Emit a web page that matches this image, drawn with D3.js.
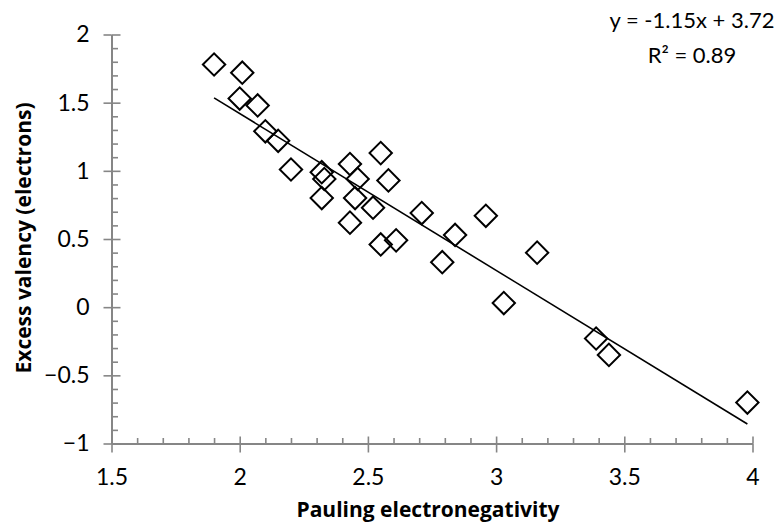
<!DOCTYPE html>
<html>
<head>
<meta charset="utf-8">
<script src="https://cdn.jsdelivr.net/npm/d3@7"></script>
<style>
  html, body { margin: 0; padding: 0; background: #fff; }
  svg { display: block; }
  text { font-family: Lato, "Open Sans", sans-serif; }
</style>
</head>
<body>
<svg id="chart" width="783" height="523"></svg>
<script>
// ---- data ----
const electronegativity = [1.90, 2.01, 2.00, 2.07, 2.10, 2.15, 2.20, 2.32, 2.33, 2.32, 2.43, 2.46, 2.45, 2.43, 2.55, 2.58, 2.52, 2.55, 2.61, 2.71, 2.84, 2.79, 2.96, 3.16, 3.03, 3.39, 3.44, 3.98];
const excessValency     = [1.78, 1.72, 1.53, 1.48, 1.29, 1.22, 1.01, 0.99, 0.94, 0.80, 1.05, 0.94, 0.80, 0.62, 1.13, 0.93, 0.73, 0.46, 0.49, 0.69, 0.53, 0.33, 0.67, 0.40, 0.03, -0.23, -0.35, -0.70];
const xTicks = [1.5, 2, 2.5, 3, 3.5, 4];
const yTicks = [-1, -0.5, 0, 0.5, 1, 1.5, 2];
const trendSlope = -1.15;
const trendIntercept = 3.72;
const equationLabels = ["y = -1.15x + 3.72", "R\u00B2 = 0.89"];
const xTitle = "Pauling electronegativity";
const yTitle = "Excess valency (electrons)";

// ---- layout ----
const svg = d3.select("#chart");
const x = d3.scaleLinear().domain([1.5, 4]).range([111.5, 752.5]);
const y = d3.scaleLinear().domain([-1, 2]).range([443.5, 34.5]);
const axisColor = "#868686";

const xMinor = d3.range(15, 41).map(v => v / 10).filter(v => !xTicks.some(t => Math.abs(t - v) < 1e-9));
const yMinor = d3.range(-10, 21).map(v => v / 10).filter(v => !yTicks.some(t => Math.abs(t - v) < 1e-9));

function styleAxis(g) {
  g.selectAll("path.domain").attr("stroke", axisColor).attr("stroke-width", 2);
  g.selectAll(".tick line").attr("stroke", axisColor).attr("stroke-width", 1.6);
  g.selectAll(".tick text").attr("fill", "#000").style("font-size", "23px").style("font-family", "Lato, sans-serif");
}

// x minor ticks (inside, upward)
svg.append("g").attr("transform", `translate(0,${y(-1)})`)
  .call(d3.axisBottom(x).tickValues(xMinor).tickSize(-5.5).tickFormat(""))
  .call(styleAxis).call(g => g.select(".domain").remove());
// x major ticks upward part
svg.append("g").attr("transform", `translate(0,${y(-1)})`)
  .call(d3.axisBottom(x).tickValues(xTicks).tickSize(-7).tickFormat(""))
  .call(styleAxis).call(g => g.select(".domain").remove());
// x major ticks + labels
svg.append("g").attr("transform", `translate(0,${y(-1)})`)
  .call(d3.axisBottom(x).tickValues(xTicks).tickSizeInner(9).tickSizeOuter(0).tickPadding(16).tickFormat(d3.format("")))
  .call(styleAxis);

// y minor ticks (inside, right)
svg.append("g").attr("transform", `translate(${x(1.5)},0)`)
  .call(d3.axisLeft(y).tickValues(yMinor).tickSize(-6.5).tickFormat(""))
  .call(styleAxis).call(g => g.select(".domain").remove());
// y major ticks right part
svg.append("g").attr("transform", `translate(${x(1.5)},0)`)
  .call(d3.axisLeft(y).tickValues(yTicks).tickSize(-9).tickFormat(""))
  .call(styleAxis).call(g => g.select(".domain").remove());
// y major ticks + labels
svg.append("g").attr("transform", `translate(${x(1.5)},0)`)
  .call(d3.axisLeft(y).tickValues(yTicks).tickSizeInner(8).tickSizeOuter(0).tickPadding(14).tickFormat(d3.format("")))
  .call(styleAxis);

// trend line
const xExt = d3.extent(electronegativity);
svg.append("line")
  .attr("x1", x(xExt[0])).attr("y1", y(trendSlope * xExt[0] + trendIntercept))
  .attr("x2", x(xExt[1])).attr("y2", y(trendSlope * xExt[1] + trendIntercept))
  .attr("stroke", "#000").attr("stroke-width", 1.6);

// points (open diamonds)
const pts = electronegativity.map((e, i) => ({ e, v: excessValency[i] }));
const sym = d3.symbol().type(d3.symbolSquare).size(250);
svg.append("g").selectAll("path").data(pts).join("path")
  .attr("d", sym)
  .attr("transform", d => `translate(${x(d.e)},${y(d.v)}) rotate(45)`)
  .attr("fill", "none").attr("stroke", "#000").attr("stroke-width", 2);

// equation labels
svg.append("g").selectAll("text").data(equationLabels).join("text")
  .attr("x", 692).attr("y", (d, i) => 28 + i * 35)
  .attr("text-anchor", "middle")
  .style("font-size", "22px")
  .text(d => d);

// axis titles
svg.append("text").attr("x", 428).attr("y", 517).attr("text-anchor", "middle")
  .style("font-family", "'Open Sans', sans-serif")
  .style("font-size", "21px").style("font-weight", "bold").text(xTitle);
svg.append("text").attr("transform", `translate(31,238) rotate(-90)`).attr("text-anchor", "middle")
  .style("font-family", "'Open Sans', sans-serif")
  .style("font-size", "21px").style("font-weight", "bold").text(yTitle);
</script>
</body>
</html>
